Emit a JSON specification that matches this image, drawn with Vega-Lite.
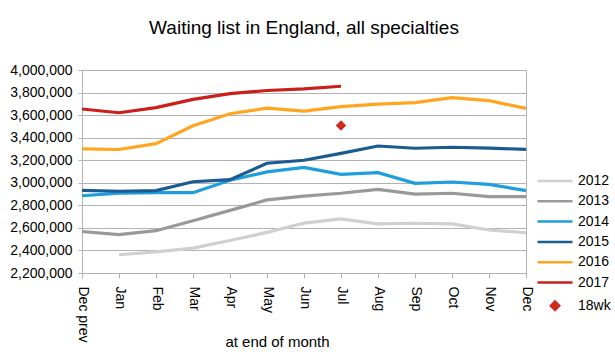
{
  "$schema": "https://vega.github.io/schema/vega-lite/v6.json",
  "width": 444,
  "height": 203,
  "autosize": "none",
  "padding": {"left": 82, "top": 70, "right": 89, "bottom": 85},
  "background": "white",
  "title": {"text": "Waiting list in England, all specialties", "fontSize": 19, "font": "Liberation Sans", "fontWeight": "normal", "color": "#000000", "offset": 25},
  "config": {
    "font": "Liberation Sans",
    "view": {"stroke": "#b3b3b3", "strokeWidth": 1},
    "axis": {"labelFont": "Liberation Sans", "labelFontSize": 14, "labelColor": "#000000", "domainColor": "#b3b3b3", "tickColor": "#b3b3b3", "gridColor": "#b3b3b3", "titleFont": "Liberation Sans", "titleColor": "#000000", "titleFontWeight": "normal"}
  },
  "data": {"values": [
    {"m": "Jan", "s": "2012", "v": 2362000},
    {"m": "Feb", "s": "2012", "v": 2388000},
    {"m": "Mar", "s": "2012", "v": 2421000},
    {"m": "Apr", "s": "2012", "v": 2488000},
    {"m": "May", "s": "2012", "v": 2560000},
    {"m": "Jun", "s": "2012", "v": 2642000},
    {"m": "Jul", "s": "2012", "v": 2679000},
    {"m": "Aug", "s": "2012", "v": 2635000},
    {"m": "Sep", "s": "2012", "v": 2641000},
    {"m": "Oct", "s": "2012", "v": 2635000},
    {"m": "Nov", "s": "2012", "v": 2581000},
    {"m": "Dec", "s": "2012", "v": 2557000},
    {"m": "Dec prev", "s": "2013", "v": 2568000},
    {"m": "Jan", "s": "2013", "v": 2541000},
    {"m": "Feb", "s": "2013", "v": 2575000},
    {"m": "Mar", "s": "2013", "v": 2664000},
    {"m": "Apr", "s": "2013", "v": 2755000},
    {"m": "May", "s": "2013", "v": 2848000},
    {"m": "Jun", "s": "2013", "v": 2882000},
    {"m": "Jul", "s": "2013", "v": 2907000},
    {"m": "Aug", "s": "2013", "v": 2942000},
    {"m": "Sep", "s": "2013", "v": 2900000},
    {"m": "Oct", "s": "2013", "v": 2907000},
    {"m": "Nov", "s": "2013", "v": 2877000},
    {"m": "Dec", "s": "2013", "v": 2877000},
    {"m": "Dec prev", "s": "2014", "v": 2885000},
    {"m": "Jan", "s": "2014", "v": 2908000},
    {"m": "Feb", "s": "2014", "v": 2913000},
    {"m": "Mar", "s": "2014", "v": 2912000},
    {"m": "Apr", "s": "2014", "v": 3022000},
    {"m": "May", "s": "2014", "v": 3097000},
    {"m": "Jun", "s": "2014", "v": 3137000},
    {"m": "Jul", "s": "2014", "v": 3075000},
    {"m": "Aug", "s": "2014", "v": 3090000},
    {"m": "Sep", "s": "2014", "v": 2995000},
    {"m": "Oct", "s": "2014", "v": 3007000},
    {"m": "Nov", "s": "2014", "v": 2986000},
    {"m": "Dec", "s": "2014", "v": 2930000},
    {"m": "Dec prev", "s": "2015", "v": 2932000},
    {"m": "Jan", "s": "2015", "v": 2925000},
    {"m": "Feb", "s": "2015", "v": 2930000},
    {"m": "Mar", "s": "2015", "v": 3009000},
    {"m": "Apr", "s": "2015", "v": 3028000},
    {"m": "May", "s": "2015", "v": 3173000},
    {"m": "Jun", "s": "2015", "v": 3200000},
    {"m": "Jul", "s": "2015", "v": 3261000},
    {"m": "Aug", "s": "2015", "v": 3326000},
    {"m": "Sep", "s": "2015", "v": 3306000},
    {"m": "Oct", "s": "2015", "v": 3315000},
    {"m": "Nov", "s": "2015", "v": 3308000},
    {"m": "Dec", "s": "2015", "v": 3296000},
    {"m": "Dec prev", "s": "2016", "v": 3300000},
    {"m": "Jan", "s": "2016", "v": 3295000},
    {"m": "Feb", "s": "2016", "v": 3347000},
    {"m": "Mar", "s": "2016", "v": 3506000},
    {"m": "Apr", "s": "2016", "v": 3612000},
    {"m": "May", "s": "2016", "v": 3662000},
    {"m": "Jun", "s": "2016", "v": 3636000},
    {"m": "Jul", "s": "2016", "v": 3675000},
    {"m": "Aug", "s": "2016", "v": 3698000},
    {"m": "Sep", "s": "2016", "v": 3710000},
    {"m": "Oct", "s": "2016", "v": 3755000},
    {"m": "Nov", "s": "2016", "v": 3728000},
    {"m": "Dec", "s": "2016", "v": 3660000},
    {"m": "Dec prev", "s": "2017", "v": 3654000},
    {"m": "Jan", "s": "2017", "v": 3621000},
    {"m": "Feb", "s": "2017", "v": 3666000},
    {"m": "Mar", "s": "2017", "v": 3740000},
    {"m": "Apr", "s": "2017", "v": 3790000},
    {"m": "May", "s": "2017", "v": 3818000},
    {"m": "Jun", "s": "2017", "v": 3833000},
    {"m": "Jul", "s": "2017", "v": 3856000},
    {"m": "Jul", "s": "18wk", "v": 3508000}
  ]},
  "encoding": {
    "x": {
      "field": "m", "type": "ordinal",
      "scale": {"type": "point", "padding": 0, "domain": ["Dec prev", "Jan", "Feb", "Mar", "Apr", "May", "Jun", "Jul", "Aug", "Sep", "Oct", "Nov", "Dec"]},
      "axis": {"labelAngle": 90, "labelAlign": "left", "labelBaseline": "middle", "tickSize": 5, "labelPadding": 8, "grid": false, "title": "at end of month", "titleFontSize": 15, "titleX": 195, "titleY": 73, "titleBaseline": "alphabetic", "titleAnchor": "middle"}
    },
    "y": {
      "field": "v", "type": "quantitative",
      "scale": {"domain": [2200000, 4000000], "nice": false, "zero": false},
      "axis": {"values": [2200000, 2400000, 2600000, 2800000, 3000000, 3200000, 3400000, 3600000, 3800000, 4000000], "format": ",d", "tickSize": 4, "labelPadding": 6, "title": null, "grid": true}
    },
    "color": {
      "field": "s", "type": "nominal",
      "scale": {"domain": ["2012", "2013", "2014", "2015", "2016", "2017", "18wk"], "range": ["#d0d0d0", "#999999", "#1e9fdc", "#1a5b92", "#ffa520", "#c9201c", "#d02a1e"]},
      "legend": {
        "title": null, "orient": "none", "legendX": 466, "legendY": 104, "padding": 0,
        "labelFont": "Liberation Sans", "labelFontSize": 14, "labelColor": "#000000",
        "symbolType": "M-3.5,0H3.5", "symbolSize": 100, "symbolStrokeWidth": 2.5, "labelOffset": 16, "rowPadding": 6.3,
        "encode": {"symbols": {"update": {
          "shape": {"signal": "datum.label === '18wk' ? 'diamond' : 'M-3.5,0H3.5'"},
          "size": {"signal": "datum.label === '18wk' ? 70 : 100"},
          "fill": {"signal": "datum.label === '18wk' ? '#d02a1e' : 'transparent'"},
          "stroke": {"signal": "datum.label === '18wk' ? 'transparent' : scale('color', datum.value)"},
          "strokeWidth": {"value": 2.5},
          "opacity": {"value": 1}
        }}}
      }
    }
  },
  "layer": [
    {"transform": [{"filter": "datum.s !== '18wk'"}], "mark": {"type": "line", "strokeWidth": 3.2}},
    {"transform": [{"filter": "datum.s === '18wk'"}], "mark": {"type": "point", "shape": "diamond", "filled": true, "size": 110, "opacity": 1}}
  ]
}
